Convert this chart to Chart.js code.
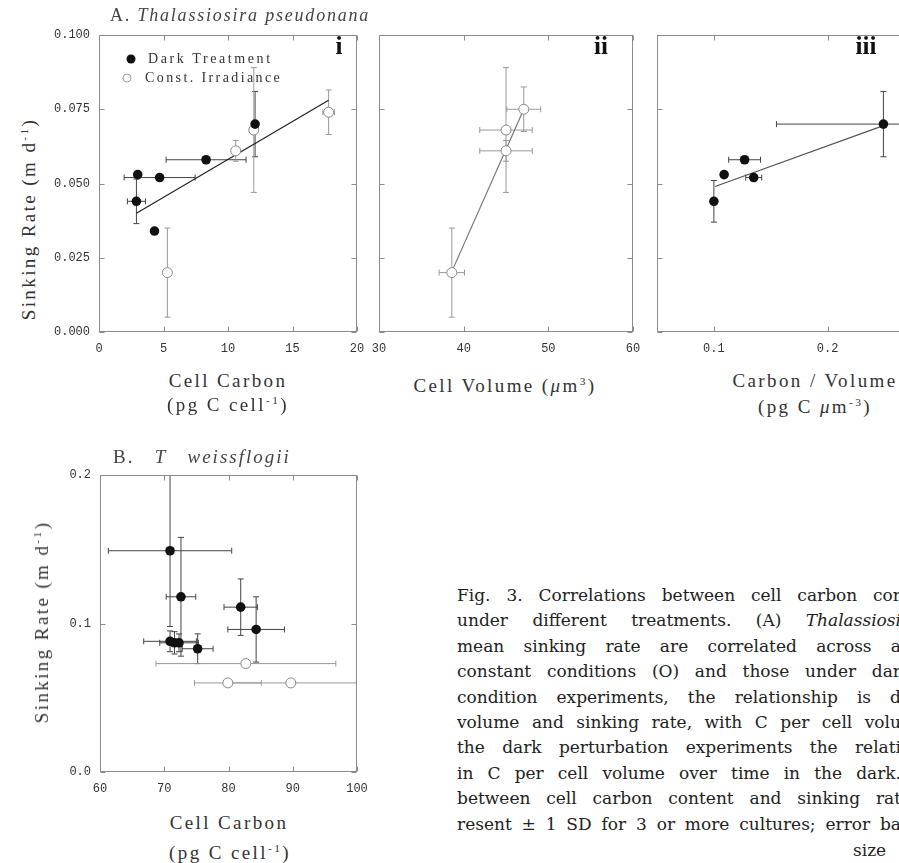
<!DOCTYPE html>
<html><head><meta charset="utf-8">
<script src="https://cdn.jsdelivr.net/npm/chart.js@4.4.1/dist/chart.umd.min.js"></script>
<style>
html,body{margin:0;padding:0;width:899px;height:863px;overflow:hidden;background:#fff;}
.p{position:absolute;}
.t{position:absolute;font-family:"Liberation Serif",serif;color:#333;white-space:nowrap;transform:translate(-50%,-50%);}
.l{position:absolute;font-family:"Liberation Serif",serif;color:#333;white-space:nowrap;transform:translateY(-50%);}
.ax{font-size:19px;letter-spacing:2.4px;}
.rot{transform:translate(-50%,-50%) rotate(-90deg);}
sup{font-size:0.6em;vertical-align:0.6em;line-height:0;}
.rn{font-family:"Liberation Serif",serif;font-weight:bold;font-size:25px;color:#111;}
.cap{position:absolute;left:457px;top:583px;width:444px;font-family:"DejaVu Serif",serif;font-size:17px;line-height:25.4px;color:#222;}
.cap div{text-align:justify;text-align-last:justify;white-space:normal;height:25.4px;overflow:hidden;}
.dot{position:absolute;border-radius:50%;transform:translate(-50%,-50%);}
</style></head><body>

<div class="p" style="left:40px;top:25px;width:330px;height:340px"><canvas id="cI" width="330" height="340"></canvas></div>
<div class="p" style="left:370px;top:25px;width:275px;height:340px"><canvas id="cII" width="275" height="340"></canvas></div>
<div class="p" style="left:648px;top:25px;width:280px;height:340px"><canvas id="cIII" width="280" height="340"></canvas></div>
<div class="p" style="left:40px;top:465px;width:330px;height:340px"><canvas id="cB" width="330" height="340"></canvas></div>

<!-- panel titles -->
<div class="l" style="left:110px;top:15px;font-size:18px;letter-spacing:1.8px;color:#444">A. <i>Thalassiosira pseudonana</i></div>
<div class="l" style="left:113px;top:457px;font-size:19px;letter-spacing:2px;color:#444">B.&nbsp;&nbsp; <i>T</i>&nbsp;&nbsp; <i>weissflogii</i></div>

<div class="t rn" style="left:339px;top:46px">i</div>
<div class="t rn" style="left:601px;top:46px">ii</div>
<div class="t rn" style="left:866px;top:46px">iii</div>

<!-- legend -->
<div class="dot" style="left:131px;top:59px;width:9px;height:9px;background:#111"></div>
<div class="dot" style="left:127px;top:78px;width:7px;height:7px;border:1px solid #999;background:#fff"></div>
<div class="l" style="left:148px;top:59px;font-size:14px;letter-spacing:2.6px">Dark Treatment</div>
<div class="l" style="left:145px;top:78px;font-size:14px;letter-spacing:2.4px">Const. Irradiance</div>

<!-- axis titles -->
<div class="t ax rot" style="left:29px;top:219px">Sinking Rate (m d<sup>-1</sup>)</div>
<div class="t ax rot" style="left:42px;top:622px">Sinking Rate (m d<sup>-1</sup>)</div>
<div class="t ax" style="left:228px;top:381px">Cell Carbon</div>
<div class="t ax" style="left:228px;top:405px">(pg C cell<sup>-1</sup>)</div>
<div class="t ax" style="left:505px;top:386px">Cell Volume (<i>μ</i>m<sup>3</sup>)</div>
<div class="t ax" style="left:815px;top:381px">Carbon / Volume</div>
<div class="t ax" style="left:815px;top:407px">(pg C <i>μ</i>m<sup>-3</sup>)</div>
<div class="t ax" style="left:229px;top:823px">Cell Carbon</div>
<div class="t ax" style="left:230px;top:853px">(pg C cell<sup>-1</sup>)</div>

<!-- caption -->
<div class="cap">
<div>Fig. 3. Correlations between cell carbon cor</div>
<div>under different treatments. (A) <i>Thalassiosi</i></div>
<div>mean sinking rate are correlated across a</div>
<div>constant conditions (O) and those under dar</div>
<div>condition experiments, the relationship is d</div>
<div>volume and sinking rate, with C per cell volu</div>
<div>the dark perturbation experiments the relati</div>
<div>in C per cell volume over time in the dark.</div>
<div>between cell carbon content and sinking rat</div>
<div>resent ± 1 SD for 3 or more cultures; error ba</div>
</div>
<div class="l" style="left:853px;top:850px;font-family:'DejaVu Serif',serif;font-size:17px;color:#222">size</div>

<script>
// ---------- tick values & labels ----------
const xTicksI = [0, 5, 10, 15, 20];
const xTickLabelsI = ['0', '5', '10', '15', '20'];
const yTicksA = [0, 0.025, 0.05, 0.075, 0.1];
const yTickLabelsA = ['0.000', '0.025', '0.050', '0.075', '0.100'];
const xTicksII = [30, 40, 50, 60];
const xTickLabelsII = ['30', '40', '50', '60'];
const xTicksIII = [0.1, 0.2];
const xTickLabelsIII = ['0.1', '0.2'];
const xTicksB = [60, 70, 80, 90, 100];
const xTickLabelsB = ['60', '70', '80', '90', '100'];
const yTicksB = [0, 0.1, 0.2];
const yTickLabelsB = ['0.0', '0.1', '0.2'];

// ---------- Panel A.i : cell carbon vs sinking rate ----------
const darkI_x    = [3.0, 4.7, 2.9, 4.3, 8.3, 12.1];
const darkI_y    = [0.053, 0.052, 0.044, 0.034, 0.058, 0.070];
const darkI_xerr = [0, 2.75, 0.7, 0, 3.1, 0];
const darkI_yerr = [0, 0, 0.0075, 0, 0, 0.011];
const openI_x    = [5.3, 10.6, 12.0, 17.8];
const openI_y    = [0.020, 0.061, 0.068, 0.074];
const openI_xerr = [0, 0, 0, 0.45];
const openI_yerr = [0.015, 0.0035, 0.021, 0.0075];
const fitI_x = [2.9, 17.8];
const fitI_y = [0.040, 0.078];

// ---------- Panel A.ii : cell volume vs sinking rate ----------
const openII_x    = [38.6, 45.0, 45.0, 47.1];
const openII_y    = [0.020, 0.061, 0.068, 0.075];
const openII_xerr = [1.5, 3.1, 3.1, 2.0];
const openII_yerr = [0.015, 0.0035, 0.021, 0.0075];
const fitII_x = [38.7, 47.1];
const fitII_y = [0.021, 0.075];

// ---------- Panel A.iii : carbon/volume vs sinking rate ----------
const darkIII_x    = [0.100, 0.109, 0.127, 0.135, 0.249];
const darkIII_y    = [0.044, 0.053, 0.058, 0.052, 0.070];
const darkIII_xerr = [0, 0, 0.014, 0.007, 0.094];
const darkIII_yerr = [0.007, 0, 0, 0, 0.011];
const fitIII_x = [0.101, 0.249];
const fitIII_y = [0.049, 0.0695];

// ---------- Panel B : T. weissflogii ----------
const darkB_x    = [70.9, 72.6, 81.9, 84.3, 70.9, 71.6, 72.3, 75.2];
const darkB_y    = [0.149, 0.118, 0.111, 0.096, 0.088, 0.087, 0.087, 0.083];
const darkB_xerr = [9.6, 2.3, 2.6, 4.4, 4.1, 0, 3.0, 2.4];
const darkB_yerr = [0.051, 0.040, 0.019, 0.022, 0.007, 0.0075, 0.006, 0.010];
const openB_x    = [82.7, 79.9, 89.7];
const openB_y    = [0.073, 0.060, 0.060];
const openB_xerr = [14, 5.2, 10.2];
const openB_yerr = [0, 0, 0];

// ---------- helpers ----------
const pts = (xs, ys) => xs.map((x, i) => ({x: x, y: ys[i]}));

const errPlugin = {
  id: 'errbars',
  beforeDatasetsDraw(chart) {
    const {ctx, chartArea: a, scales: {x, y}} = chart;
    ctx.save();
    ctx.beginPath(); ctx.rect(a.left, a.top, a.right - a.left, a.bottom - a.top); ctx.clip();
    chart.data.datasets.forEach(ds => {
      if (!ds.xerr && !ds.yerr) return;
      ctx.strokeStyle = ds.errColor || '#888';
      ctx.lineWidth = 1;
      ctx.beginPath();
      ds.data.forEach((p, j) => {
        const px = x.getPixelForValue(p.x), py = y.getPixelForValue(p.y);
        const xe = ds.xerr ? ds.xerr[j] : 0, ye = ds.yerr ? ds.yerr[j] : 0;
        if (xe) {
          const l = x.getPixelForValue(p.x - xe), r = x.getPixelForValue(p.x + xe);
          ctx.moveTo(l, py); ctx.lineTo(r, py);
          ctx.moveTo(l, py - 3); ctx.lineTo(l, py + 3);
          ctx.moveTo(r, py - 3); ctx.lineTo(r, py + 3);
        }
        if (ye) {
          const t = y.getPixelForValue(p.y + ye), b = y.getPixelForValue(p.y - ye);
          ctx.moveTo(px, t); ctx.lineTo(px, b);
          ctx.moveTo(px - 3, t); ctx.lineTo(px + 3, t);
          ctx.moveTo(px - 3, b); ctx.lineTo(px + 3, b);
        }
      });
      ctx.stroke();
    });
    ctx.restore();
  }
};

const framePlugin = {
  id: 'frame',
  afterDraw(chart) {
    const {ctx, chartArea: a, scales: {x, y}} = chart;
    ctx.save();
    ctx.strokeStyle = '#8c8c8c';
    ctx.lineWidth = 1;
    const L = Math.round(a.left) + 0.5, R = Math.round(a.right) - 0.5;
    const T = Math.round(a.top) + 0.5, B = Math.round(a.bottom) - 0.5;
    ctx.strokeRect(L, T, R - L, B - T);
    ctx.beginPath();
    const tl = 5;
    x.ticks.forEach(t => {
      const px = Math.round(x.getPixelForValue(t.value)) + 0.5;
      ctx.moveTo(px, B); ctx.lineTo(px, B - tl);
      ctx.moveTo(px, T); ctx.lineTo(px, T + tl);
    });
    y.ticks.forEach(t => {
      const py = Math.round(y.getPixelForValue(t.value)) + 0.5;
      ctx.moveTo(L, py); ctx.lineTo(L + tl, py);
      ctx.moveTo(R, py); ctx.lineTo(R - tl, py);
    });
    ctx.stroke();
    ctx.restore();
  }
};

const tickFont = {family: 'Liberation Mono', size: 12};

function xScale(min, max, vals, labels, h) {
  return {
    type: 'linear', min: min, max: max,
    grid: {display: false, drawTicks: false}, border: {display: false},
    afterBuildTicks: s => { s.ticks = vals.map(v => ({value: v})); },
    afterFit: s => { s.height = h; s.paddingLeft = 0; s.paddingRight = 0; },
    ticks: {display: !!labels, autoSkip: false, maxRotation: 0, padding: 10, color: '#333', font: tickFont,
            callback: (v, i) => labels ? labels[i] : ''}
  };
}
function yScale(min, max, vals, labels, w) {
  return {
    type: 'linear', min: min, max: max,
    grid: {display: false, drawTicks: false}, border: {display: false},
    afterBuildTicks: s => { s.ticks = vals.map(v => ({value: v})); },
    afterFit: s => { s.width = w; s.paddingTop = 0; s.paddingBottom = 0; },
    ticks: {display: !!labels, autoSkip: false, padding: 9, color: '#333', font: tickFont,
            callback: (v, i) => labels ? labels[i] : ''}
  };
}

function darkSet(xs, ys, xe, ye) {
  return {data: pts(xs, ys), xerr: xe, yerr: ye, errColor: '#444', order: 1,
          pointRadius: 4.8, pointBackgroundColor: '#111', pointBorderColor: '#111', pointBorderWidth: 0};
}
function openSet(xs, ys, xe, ye) {
  return {data: pts(xs, ys), xerr: xe, yerr: ye, errColor: '#999', order: 2,
          pointRadius: 5, pointBackgroundColor: '#fff', pointBorderColor: '#888', pointBorderWidth: 1};
}
function fitSet(xs, ys, color) {
  return {data: pts(xs, ys), showLine: true, borderColor: color, borderWidth: 1.2,
          pointRadius: 0, order: 3, fill: false};
}

function make(id, datasets, x, y, pad) {
  new Chart(document.getElementById(id), {
    type: 'scatter',
    data: {datasets: datasets},
    options: {
      responsive: false, animation: false, devicePixelRatio: 1, events: [],
      layout: {padding: pad},
      plugins: {legend: {display: false}, tooltip: {enabled: false}},
      scales: {x: x, y: y}
    },
    plugins: [errPlugin, framePlugin]
  });
}

make('cI',
  [darkSet(darkI_x, darkI_y, darkI_xerr, darkI_yerr),
   openSet(openI_x, openI_y, openI_xerr, openI_yerr),
   fitSet(fitI_x, fitI_y, '#222')],
  xScale(0, 20, xTicksI, xTickLabelsI, 33),
  yScale(0, 0.1, yTicksA, yTickLabelsA, 59),
  {top: 10, right: 13, left: 0, bottom: 0});

make('cII',
  [openSet(openII_x, openII_y, openII_xerr, openII_yerr),
   fitSet(fitII_x, fitII_y, '#777')],
  xScale(30, 60, xTicksII, xTickLabelsII, 33),
  yScale(0, 0.1, yTicksA, null, 9),
  {top: 10, right: 12, left: 0, bottom: 0});

make('cIII',
  [darkSet(darkIII_x, darkIII_y, darkIII_xerr, darkIII_yerr),
   fitSet(fitIII_x, fitIII_y, '#555')],
  xScale(0.05, 0.275, xTicksIII, xTickLabelsIII, 33),
  yScale(0, 0.1, yTicksA, null, 9),
  {top: 10, right: 15, left: 0, bottom: 0});

make('cB',
  [darkSet(darkB_x, darkB_y, darkB_xerr, darkB_yerr),
   openSet(openB_x, openB_y, openB_xerr, openB_yerr)],
  xScale(60, 100, xTicksB, xTickLabelsB, 33),
  yScale(0, 0.2, yTicksB, yTickLabelsB, 60),
  {top: 10, right: 13, left: 0, bottom: 0});
</script>
</body></html>
